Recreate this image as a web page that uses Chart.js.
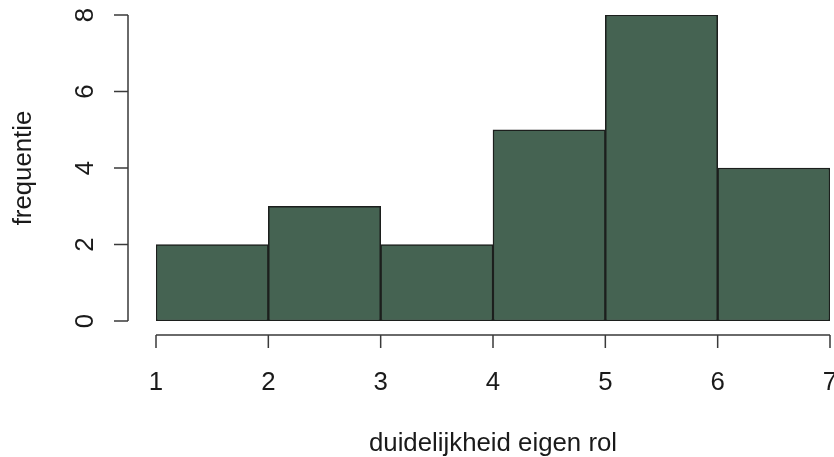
<!DOCTYPE html>
<html>
<head>
<meta charset="utf-8">
<script src="https://cdn.jsdelivr.net/npm/chart.js@4"></script>
<style>
  html, body { margin: 0; padding: 0; background: #fff; }
  #wrap { width: 834px; height: 457px; }
</style>
</head>
<body>
<div id="wrap"><canvas id="hist" width="834" height="457"></canvas></div>
<script>
// histogram bins (left edges), width 1
const binStarts = [1, 2, 3, 4, 5, 6]
const counts = [2, 3, 2, 5, 8, 4]
const xTicks = [1, 2, 3, 4, 5, 6, 7]
const yTicks = [0, 2, 4, 6, 8]
const xTitle = 'duidelijkheid eigen rol'
const yTitle = 'frequentie'

const FONT = '25.8px "Liberation Sans", Arial, sans-serif'
const AXIS_COLOR = '#3a3a3a'

// R style axes, pulled away from the plot region
const baseAxes = {
  id: 'baseAxes',
  afterDraw(chart) {
    const ctx = chart.ctx
    const xs = chart.scales.x
    const ys = chart.scales.y
    const yAxisX = 128
    const xAxisY = 335
    ctx.save()
    ctx.strokeStyle = AXIS_COLOR
    ctx.lineWidth = 1.5
    ctx.fillStyle = '#1a1a1a'
    ctx.font = FONT

    // x axis
    ctx.beginPath()
    ctx.moveTo(xs.getPixelForValue(xTicks[0]), xAxisY)
    ctx.lineTo(xs.getPixelForValue(xTicks[xTicks.length - 1]), xAxisY)
    xTicks.forEach(t => {
      const px = xs.getPixelForValue(t)
      ctx.moveTo(px, xAxisY)
      ctx.lineTo(px, xAxisY + 13)
    })
    ctx.stroke()
    ctx.textAlign = 'center'
    ctx.textBaseline = 'alphabetic'
    xTicks.forEach(t => ctx.fillText(String(t), xs.getPixelForValue(t), 390))
    ctx.fillText(xTitle, (xs.left + xs.right) / 2, 451)

    // y axis
    ctx.beginPath()
    ctx.moveTo(yAxisX, ys.getPixelForValue(yTicks[0]))
    ctx.lineTo(yAxisX, ys.getPixelForValue(yTicks[yTicks.length - 1]))
    yTicks.forEach(t => {
      const py = ys.getPixelForValue(t)
      ctx.moveTo(yAxisX, py)
      ctx.lineTo(yAxisX - 14, py)
    })
    ctx.stroke()
    yTicks.forEach(t => {
      ctx.save()
      ctx.translate(93, ys.getPixelForValue(t))
      ctx.rotate(-Math.PI / 2)
      ctx.fillText(String(t), 0, 0)
      ctx.restore()
    })
    ctx.save()
    ctx.translate(31, (ys.top + ys.bottom) / 2)
    ctx.rotate(-Math.PI / 2)
    ctx.fillText(yTitle, 0, 0)
    ctx.restore()
    ctx.restore()
  }
}

new Chart(document.getElementById('hist'), {
  type: 'bar',
  data: {
    datasets: [{
      data: binStarts.map((s, i) => ({ x: s + 0.5, y: counts[i] })),
      backgroundColor: '#456352',
      borderColor: '#1c1f1d',
      borderWidth: 1.5,
      borderSkipped: false,
      barPercentage: 1,
      categoryPercentage: 1
    }]
  },
  options: {
    responsive: false,
    animation: false,
    devicePixelRatio: 1,
    layout: { padding: { left: 156, right: 4, top: 15, bottom: 136 } },
    plugins: { legend: { display: false }, tooltip: { enabled: false } },
    scales: {
      x: { type: 'linear', min: 1, max: 7, offset: false, display: false },
      y: { type: 'linear', min: 0, max: 8, display: false }
    }
  },
  plugins: [baseAxes]
})
</script>
</body>
</html>
